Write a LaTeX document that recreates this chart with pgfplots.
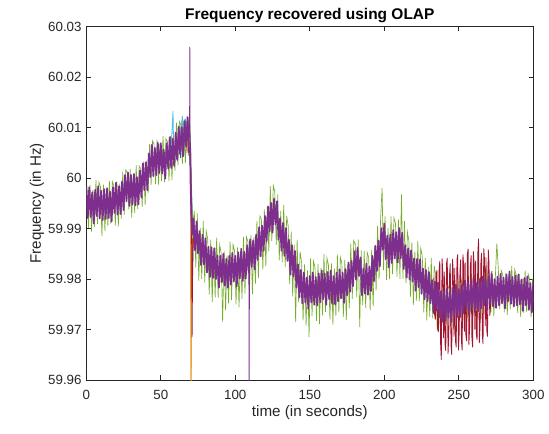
\documentclass[border=0pt]{standalone}
\usepackage{fontspec}
\setmainfont{Liberation Sans}
\usepackage{pgfplots}
\pgfplotsset{compat=1.18}
\definecolor{mblue}{rgb}{0,0.447,0.741}
\definecolor{morange}{rgb}{0.85,0.325,0.098}
\definecolor{myellow}{rgb}{0.929,0.694,0.125}
\definecolor{mpurple}{rgb}{0.494,0.184,0.556}
\definecolor{mgreen}{rgb}{0.466,0.674,0.188}
\definecolor{mlblue}{rgb}{0.301,0.745,0.933}
\definecolor{mred}{rgb}{0.635,0.078,0.184}
\definecolor{axgray}{rgb}{0.15,0.15,0.15}
\begin{document}
\begin{tikzpicture}
\useasboundingbox (-64.7pt,-39.75pt) rectangle (347pt,285pt);
\begin{axis}[
  scale only axis, width=335.25pt, height=265pt,
  xmin=0, xmax=300, ymin=59.96, ymax=60.03,
  xtick={0,50,100,150,200,250,300},
  xticklabels={0,50,100,150,200,250,300},
  ytick={59.96,59.97,59.98,59.99,60,60.01,60.02,60.03},
  yticklabels={59.96,59.97,59.98,59.99,60,60.01,60.02,60.03},
  scaled y ticks=false, scaled x ticks=false,
  /pgf/number format/assume math mode=true,
  tick align=inside, major tick length=3.5pt,
  axis line style={draw=axgray, line width=0.5pt},
  tick style={draw=axgray, line width=0.5pt},
  ticklabel style={font=\fontsize{10}{12}\selectfont, text=axgray},
  xticklabel style={anchor=base, yshift=-14.25pt},
  title={Frequency recovered using OLAP},
  every axis title/.style={font=\bfseries\fontsize{11.6}{13}\selectfont, at={(axis description cs:0.5,1)}, anchor=base, yshift=5.25pt},
  xlabel={time (in seconds)},
  every axis x label/.style={at={(axis description cs:0.5,0)}, anchor=base, yshift=-27pt, font=\fontsize{11.4}{13}\selectfont, text=axgray},
  ylabel={Frequency (in Hz)},
  every axis y label/.style={at={(axis description cs:0,0.5)}, xshift=-34pt, rotate=90, anchor=base, font=\fontsize{11.4}{13}\selectfont, text=axgray},
]
% blue
\addplot[mblue, line width=0.6pt] coordinates {(62.3,60.0100)(63.3,60.0040)(64.3,60.0110)(65.3,60.0045)(66.3,60.0118)(67.3,60.0060)(68.3,60.0115)(69.3,60.0050)(70.3,59.9995)(70.8,59.9860)(71.3,59.9830)(71.8,59.9890)(72.3,59.9870)};
% light blue
\addplot[mlblue, line width=0.6pt] coordinates {(56.5,60.0050)(57.5,60.0090)(58.2,60.0133)(58.8,60.0030)(60,60.0080)(62,60.0060)(64.5,60.0123)(65.5,60.0050)(68,60.0110)(69.8,60.0075)(70.4,60.0000)(71,59.9950)(71.7,59.9900)};
% orange
\addplot[morange, line width=0.6pt] coordinates {(66.6,60.0100)(67.6,60.0050)(68.6,60.0108)(69.6,60.0050)(70.1,60.0000)(70.3,59.9550)(70.5,59.9900)(71,59.9850)(71.5,59.9880)(72.5,59.9870)};
% yellow
\addplot[myellow, line width=0.6pt] coordinates {(66.8,60.0090)(67.8,60.0060)(68.8,60.0110)(69.8,60.0040)(70.2,59.9980)(70.4,59.9550)(70.7,59.9920)(71.2,59.9880)(72,59.9900)};
% green
\addplot[mgreen, line width=0.5pt] coordinates {(0.5,59.9984)(1.5,59.9902)(2.5,59.9986)(3.5,59.9894)(4.5,59.9976)(5.5,59.9904)(6.5,59.9996)(7.5,59.9909)(8.5,59.9992)(9.5,59.9983)(10.5,59.9885)(11.5,59.9987)(12.5,59.9895)(13.5,59.9977)(14.5,59.9905)(15.5,59.9995)(16.5,59.9909)(17.5,59.9993)(18.5,59.9985)(19.5,59.9906)(20.5,59.9993)(21.5,59.9904)(22.5,59.9989)(23.5,59.9920)(24.5,60.0013)(25.5,59.9927)(26.5,60.0016)(27.5,60.0012)(28.5,59.9938)(29.5,60.0018)(30.5,59.9922)(31.5,60.0000)(32.5,59.9931)(33.5,60.0025)(34.5,59.9939)(35.5,60.0024)(36.5,60.0019)(37.5,59.9943)(38.5,60.0033)(39.5,59.9947)(40.5,60.0035)(41.5,59.9970)(42.5,60.0068)(43.5,59.9986)(44.5,60.0074)(45.5,60.0067)(46.5,59.9988)(47.5,60.0076)(48.5,59.9987)(49.5,60.0068)(50.5,59.9994)(51.5,60.0083)(52.5,59.9992)(53.5,60.0078)(54.5,60.0072)(55.5,59.9994)(56.5,60.0083)(57.5,59.9996)(58.5,60.0083)(59.5,60.0015)(60.5,60.0110)(61.5,60.0026)(62.5,60.0112)(63.5,60.0105)(64.5,60.0028)(65.5,60.0116)(66.5,60.0029)(67.5,60.0115)(68.5,60.0044)(69.5,60.0110)(70.5,59.9980)(71.5,59.9905)(72.5,59.9935)(73.5,59.9823)(74.5,59.9930)(75.5,59.9797)(76.5,59.9901)(77.5,59.9800)(78.5,59.9915)(79.5,59.9793)(80.5,59.9895)(81.5,59.9879)(82.5,59.9769)(83.5,59.9878)(84.5,59.9755)(85.5,59.9862)(86.5,59.9764)(87.5,59.9882)(88.5,59.9763)(89.5,59.9868)(90.5,59.9852)(91.5,59.9715)(92.5,59.9856)(93.5,59.9738)(94.5,59.9847)(95.5,59.9752)(96.5,59.9874)(97.5,59.9759)(98.5,59.9868)(99.5,59.9856)(100.5,59.9750)(101.5,59.9863)(102.5,59.9744)(103.5,59.9855)(104.5,59.9761)(105.5,59.9883)(106.5,59.9771)(107.5,59.9883)(108.5,59.9874)(109.5,59.9771)(110.5,59.9887)(111.5,59.9770)(112.5,59.9883)(113.5,59.9791)(114.5,59.9915)(115.5,59.9802)(116.5,59.9925)(117.5,59.9919)(118.5,59.9819)(119.5,59.9938)(120.5,59.9825)(121.5,59.9943)(122.5,59.9855)(123.5,59.9984)(124.5,59.9875)(125.5,59.9985)(126.5,59.9973)(127.5,59.9868)(128.5,59.9968)(129.5,59.9837)(130.5,59.9935)(131.5,59.9833)(132.5,59.9947)(133.5,59.9824)(134.5,59.9925)(135.5,59.9905)(136.5,59.9790)(137.5,59.9894)(138.5,59.9766)(139.5,59.9868)(140.5,59.9715)(141.5,59.9878)(142.5,59.9754)(143.5,59.9854)(144.5,59.9833)(145.5,59.9718)(146.5,59.9829)(147.5,59.9708)(148.5,59.9817)(149.5,59.9685)(150.5,59.9841)(151.5,59.9726)(152.5,59.9835)(153.5,59.9823)(154.5,59.9717)(155.5,59.9830)(156.5,59.9711)(157.5,59.9822)(158.5,59.9728)(159.5,59.9850)(160.5,59.9735)(161.5,59.9842)(162.5,59.9828)(163.5,59.9720)(164.5,59.9831)(165.5,59.9710)(166.5,59.9821)(167.5,59.9727)(168.5,59.9849)(169.5,59.9734)(170.5,59.9843)(171.5,59.9831)(172.5,59.9725)(173.5,59.9838)(174.5,59.9719)(175.5,59.9830)(176.5,59.9742)(177.5,59.9870)(178.5,59.9761)(179.5,59.9876)(180.5,59.9870)(181.5,59.9765)(182.5,59.9878)(183.5,59.9705)(184.5,59.9857)(185.5,59.9748)(186.5,59.9856)(187.5,59.9743)(188.5,59.9853)(189.5,59.9843)(190.5,59.9738)(191.5,59.9858)(192.5,59.9746)(193.5,59.9864)(194.5,59.9777)(195.5,59.9906)(196.5,59.9800)(197.5,59.9918)(198.5,59.9980)(199.5,59.9818)(200.5,59.9924)(201.5,59.9798)(202.5,59.9901)(203.5,59.9800)(204.5,59.9924)(205.5,59.9810)(206.5,59.9921)(207.5,59.9910)(208.5,59.9805)(209.5,59.9918)(210.5,59.9800)(211.5,59.9968)(212.5,59.9801)(213.5,59.9915)(214.5,59.9792)(215.5,59.9893)(216.5,59.9876)(217.5,59.9765)(218.5,59.9873)(219.5,59.9749)(220.5,59.9855)(221.5,59.9757)(222.5,59.9875)(223.5,59.9756)(224.5,59.9861)(225.5,59.9845)(226.5,59.9734)(227.5,59.9842)(228.5,59.9718)(229.5,59.9824)(230.5,59.9725)(231.5,59.9842)(232.5,59.9722)(233.5,59.9826)(234.5,59.9809)(235.5,59.9698)(236.5,59.9792)(237.5,59.9705)(238.5,59.9779)(239.5,59.9709)(240.5,59.9791)(241.5,59.9711)(242.5,59.9788)(243.5,59.9780)(244.5,59.9706)(245.5,59.9785)(246.5,59.9702)(247.5,59.9780)(248.5,59.9714)(249.5,59.9800)(250.5,59.9720)(251.5,59.9798)(252.5,59.9791)(253.5,59.9718)(254.5,59.9798)(255.5,59.9716)(256.5,59.9793)(257.5,59.9726)(258.5,59.9811)(259.5,59.9730)(260.5,59.9806)(261.5,59.9798)(262.5,59.9724)(263.5,59.9803)(264.5,59.9720)(265.5,59.9798)(266.5,59.9732)(267.5,59.9818)(268.5,59.9738)(269.5,59.9815)(270.5,59.9807)(271.5,59.9732)(272.5,59.9810)(273.5,59.9726)(274.5,59.9803)(275.5,59.9870)(276.5,59.9821)(277.5,59.9741)(278.5,59.9817)(279.5,59.9808)(280.5,59.9734)(281.5,59.9812)(282.5,59.9729)(283.5,59.9806)(284.5,59.9740)(285.5,59.9826)(286.5,59.9744)(287.5,59.9819)(288.5,59.9809)(289.5,59.9733)(290.5,59.9810)(291.5,59.9725)(292.5,59.9801)(293.5,59.9733)(294.5,59.9817)(295.5,59.9735)(296.5,59.9810)(297.5,59.9800)(298.5,59.9724)(299.5,59.9801)};
% red
\addplot[mred, line width=0.6pt] coordinates {(69.9,60.0070)(70.6,59.9940)(71.0,59.9685)(71.3,59.9800)(71.8,59.9880)};
\addplot[mred, line width=0.6pt] coordinates {(233.25,59.9803)(233.75,59.9730)(234.25,59.9720)(234.75,59.9807)(235.25,59.9817)(235.75,59.9703)(236.25,59.9695)(236.75,59.9817)(237.25,59.9836)(237.75,59.9674)(238.25,59.9640)(238.75,59.9841)(239.25,59.9814)(239.75,59.9683)(240.25,59.9815)(240.75,59.9670)(241.25,59.9658)(241.75,59.9831)(242.25,59.9842)(242.75,59.9652)(243.25,59.9686)(243.75,59.9808)(244.25,59.9831)(244.75,59.9669)(245.25,59.9650)(245.75,59.9840)(246.25,59.9817)(246.75,59.9686)(247.25,59.9822)(247.75,59.9677)(248.25,59.9665)(248.75,59.9838)(249.25,59.9849)(249.75,59.9659)(250.25,59.9693)(250.75,59.9815)(251.25,59.9839)(251.75,59.9677)(252.25,59.9659)(252.75,59.9849)(253.25,59.9827)(253.75,59.9696)(254.25,59.9833)(254.75,59.9688)(255.25,59.9677)(255.75,59.9850)(256.25,59.9860)(256.75,59.9670)(257.25,59.9703)(257.75,59.9825)(258.25,59.9847)(258.75,59.9685)(259.25,59.9665)(259.75,59.9855)(260.25,59.9831)(260.75,59.9700)(261.25,59.9836)(261.75,59.9691)(262.25,59.9679)(262.75,59.9852)(263.25,59.9880)(263.75,59.9673)(264.25,59.9707)(264.75,59.9829)(265.25,59.9852)(265.75,59.9690)(266.25,59.9671)(266.75,59.9861)(267.25,59.9838)(267.75,59.9707)(268.25,59.9843)(268.75,59.9698)(269.25,59.9686)(269.75,59.9859)(270.25,59.9832)(270.75,59.9727)(271.25,59.9744)(271.75,59.9805)(272.25,59.9816)};
% purple
\addplot[mpurple, line width=1.3pt, line join=round] coordinates {(0,59.9980)(1,59.9921)(2,59.9982)(3,59.9923)(4,59.9972)(5,59.9910)(6,59.9977)(7,59.9925)(8,59.9984)(9,59.9920)(10,59.9975)(11,59.9917)(12,59.9978)(13,59.9919)(14,59.9980)(15,59.9921)(16,59.9973)(17,59.9914)(18,59.9982)(19,59.9931)(20,59.9991)(21,59.9928)(22,59.9984)(23,59.9929)(24,59.9993)(25,59.9937)(26,60.0006)(27,59.9954)(28,60.0011)(29,59.9945)(30,60.0006)(31,59.9948)(32,60.0008)(33,59.9946)(34,60.0002)(35,59.9948)(36,60.0015)(37,59.9962)(38,60.0029)(39,59.9976)(40,60.0031)(41,59.9976)(42,60.0049)(43,60.0002)(44,60.0066)(45,60.0004)(46,60.0060)(47,60.0006)(48,60.0070)(49,60.0010)(50,60.0069)(51,60.0009)(52,60.0056)(53,59.9999)(54,60.0069)(55,60.0019)(56,60.0081)(57,60.0020)(58,60.0078)(59,60.0024)(60,60.0090)(61,60.0036)(62,60.0102)(63,60.0047)(64,60.0101)(65,60.0043)(66,60.0113)(67,60.0063)(68,60.0121)(69,60.0051)(69.7,60.0060)(70,59.9990)(70.5,59.9930)(71,59.9888)(72,59.9920)(73,59.9857)(74,59.9914)(75,59.9851)(76,59.9895)(77,59.9828)(78,59.9888)(79,59.9829)(80,59.9881)(81,59.9813)(82,59.9864)(83,59.9804)(84,59.9863)(85,59.9802)(86,59.9861)(87,59.9800)(88,59.9847)(89,59.9783)(90,59.9846)(91,59.9794)(92,59.9850)(93,59.9787)(94,59.9840)(95,59.9783)(96,59.9846)(97,59.9789)(98,59.9852)(99,59.9795)(100,59.9846)(101,59.9786)(102,59.9853)(103,59.9801)(104,59.9860)(105,59.9796)(106,59.9854)(107,59.9801)(108,59.9867)(109,59.9813)(110,59.9879)(111,59.9824)(112,59.9877)(113,59.9819)(114,59.9888)(115,59.9838)(116,59.9903)(117,59.9845)(118,59.9906)(119,59.9856)(120,59.9925)(121,59.9875)(122,59.9944)(123,59.9894)(124,59.9951)(125,59.9892)(126,59.9959)(127,59.9908)(128,59.9954)(129,59.9878)(130,59.9920)(131,59.9856)(132,59.9911)(133,59.9846)(134,59.9901)(135,59.9836)(136,59.9878)(137,59.9809)(138,59.9867)(139,59.9806)(140,59.9856)(141,59.9783)(142,59.9829)(143,59.9764)(144,59.9818)(145,59.9752)(146,59.9813)(147,59.9754)(148,59.9803)(149,59.9741)(150,59.9806)(151,59.9754)(152,59.9813)(153,59.9749)(154,59.9804)(155,59.9748)(156,59.9811)(157,59.9754)(158,59.9817)(159,59.9760)(160,59.9811)(161,59.9749)(162,59.9814)(163,59.9760)(164,59.9817)(165,59.9751)(166,59.9806)(167,59.9750)(168,59.9813)(169,59.9756)(170,59.9819)(171,59.9762)(172,59.9813)(173,59.9753)(174,59.9820)(175,59.9768)(176,59.9833)(177,59.9775)(178,59.9836)(179,59.9786)(180,59.9855)(181,59.9799)(182,59.9862)(183,59.9806)(184,59.9843)(185,59.9768)(186,59.9821)(187,59.9771)(188,59.9831)(189,59.9769)(190,59.9825)(191,59.9776)(192,59.9846)(193,59.9796)(194,59.9866)(195,59.9816)(196,59.9876)(197,59.9825)(198,59.9901)(199,59.9858)(200,59.9910)(201,59.9839)(202,59.9886)(203,59.9823)(204,59.9888)(205,59.9832)(206,59.9897)(207,59.9841)(208,59.9893)(209,59.9833)(210,59.9901)(211,59.9841)(212,59.9892)(213,59.9820)(214,59.9867)(215,59.9803)(216,59.9861)(217,59.9799)(218,59.9857)(219,59.9795)(220,59.9841)(221,59.9777)(222,59.9840)(223,59.9784)(224,59.9839)(225,59.9771)(226,59.9821)(227,59.9760)(228,59.9818)(229,59.9756)(230,59.9814)(231,59.9752)(232,59.9798)(233,59.9733)(234,59.9795)(235,59.9738)(236,59.9793)(237,59.9725)(238,59.9776)(239,59.9716)(240,59.9775)(241,59.9718)(242,59.9781)(243,59.9724)(244,59.9775)(245,59.9715)(246,59.9782)(247,59.9730)(248,59.9789)(249,59.9725)(250,59.9780)(251,59.9725)(252,59.9789)(253,59.9733)(254,59.9797)(255,59.9741)(256,59.9791)(257,59.9730)(258,59.9796)(259,59.9743)(260,59.9801)(261,59.9737)(262,59.9792)(263,59.9736)(264,59.9799)(265,59.9742)(266,59.9805)(267,59.9748)(268,59.9799)(269,59.9739)(270,59.9806)(271,59.9753)(272,59.9811)(273,59.9746)(274,59.9800)(275,59.9743)(276,59.9805)(277,59.9748)(278,59.9810)(279,59.9752)(280,59.9803)(281,59.9742)(282,59.9809)(283,59.9756)(284,59.9815)(285,59.9751)(286,59.9804)(287,59.9746)(288,59.9807)(289,59.9748)(290,59.9809)(291,59.9750)(292,59.9799)(293,59.9737)(294,59.9802)(295,59.9748)(296,59.9805)(297,59.9739)(298,59.9792)(299,59.9734)(300,59.9795)};
% purple thin spikes
\addplot[mpurple, line width=0.6pt] coordinates {(69.3,60.0080)(69.5,60.0260)(69.7,60.0060)};
\addplot[mpurple, line width=0.6pt] coordinates {(109.1,59.9830)(109.3,59.9550)(109.5,59.9840)};
\end{axis}
\end{tikzpicture}
\end{document}
